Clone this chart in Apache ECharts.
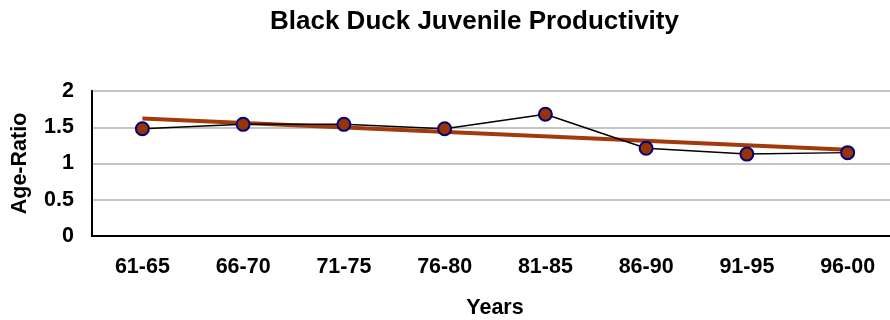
<!DOCTYPE html>
<html>
<head>
<meta charset="utf-8">
<script src="https://cdn.jsdelivr.net/npm/echarts@6/dist/echarts.min.js"></script>
<style>
html,body{margin:0;padding:0;background:#fff;}
#chart{width:890px;height:320px;}
</style>
</head>
<body>
<div id="chart"></div>
<script>
const titleText = 'Black Duck Juvenile Productivity';
const categories = ['61-65','66-70','71-75','76-80','81-85','86-90','91-95','96-00'];
const ageRatio = [1.48, 1.54, 1.54, 1.48, 1.68, 1.21, 1.13, 1.15];
const trendCategories = ['61-65','96-00'];
const trendValues = [1.62, 1.19];
const yTicks = [0, 0.5, 1, 1.5, 2];

const font = 'Liberation Sans, Arial, sans-serif';
const chart = echarts.init(document.getElementById('chart'));
chart.setOption({
  animation: false,
  backgroundColor: '#ffffff',
  title: {
    text: titleText,
    left: 265, top: 4,
    textStyle: {fontFamily: font, fontWeight: 'bold', fontSize: 26, color: '#000'}
  },
  grid: {left: 92, top: 91, width: 806, height: 145, outerBoundsMode: 'none', containLabel: false,
         show: true, borderColor: '#000', borderWidth: 2, backgroundColor: 'transparent'},
  xAxis: {
    type: 'category', data: categories, boundaryGap: true,
    name: 'Years', nameLocation: 'middle', nameGap: 61,
    nameTextStyle: {fontFamily: font, fontWeight: 'bold', fontSize: 21.5, color: '#000'},
    axisLine: {show: true, lineStyle: {color: '#000', width: 2}},
    axisTick: {show: false},
    axisLabel: {fontFamily: font, fontWeight: 'bold', fontSize: 21.5, color: '#000', margin: 20, interval: 0}
  },
  yAxis: {
    type: 'value', min: yTicks[0], max: yTicks[yTicks.length-1], interval: yTicks[1]-yTicks[0],
    name: 'Age-Ratio', nameLocation: 'middle', nameGap: 61,
    nameTextStyle: {fontFamily: font, fontWeight: 'bold', fontSize: 21.5, color: '#000'},
    axisLine: {show: true, lineStyle: {color: '#000', width: 2}},
    axisTick: {show: false},
    axisLabel: {fontFamily: font, fontWeight: 'bold', fontSize: 21.5, color: '#000', margin: 18},
    splitLine: {show: true, lineStyle: {color: '#c4c4c4', width: 2}}
  },
  series: [
    {
      name: 'Trend', type: 'line', z: 2,
      data: trendCategories.map((c, i) => [c, trendValues[i]]),
      symbol: 'none',
      lineStyle: {color: '#a33a0c', width: 4}
    },
    {
      name: 'Age-Ratio', type: 'line', z: 3,
      data: ageRatio,
      symbol: 'circle', symbolSize: 13,
      itemStyle: {color: '#993300', borderColor: '#000080', borderWidth: 2},
      lineStyle: {color: '#000', width: 1.5}
    }
  ]
});
</script>
</body>
</html>
